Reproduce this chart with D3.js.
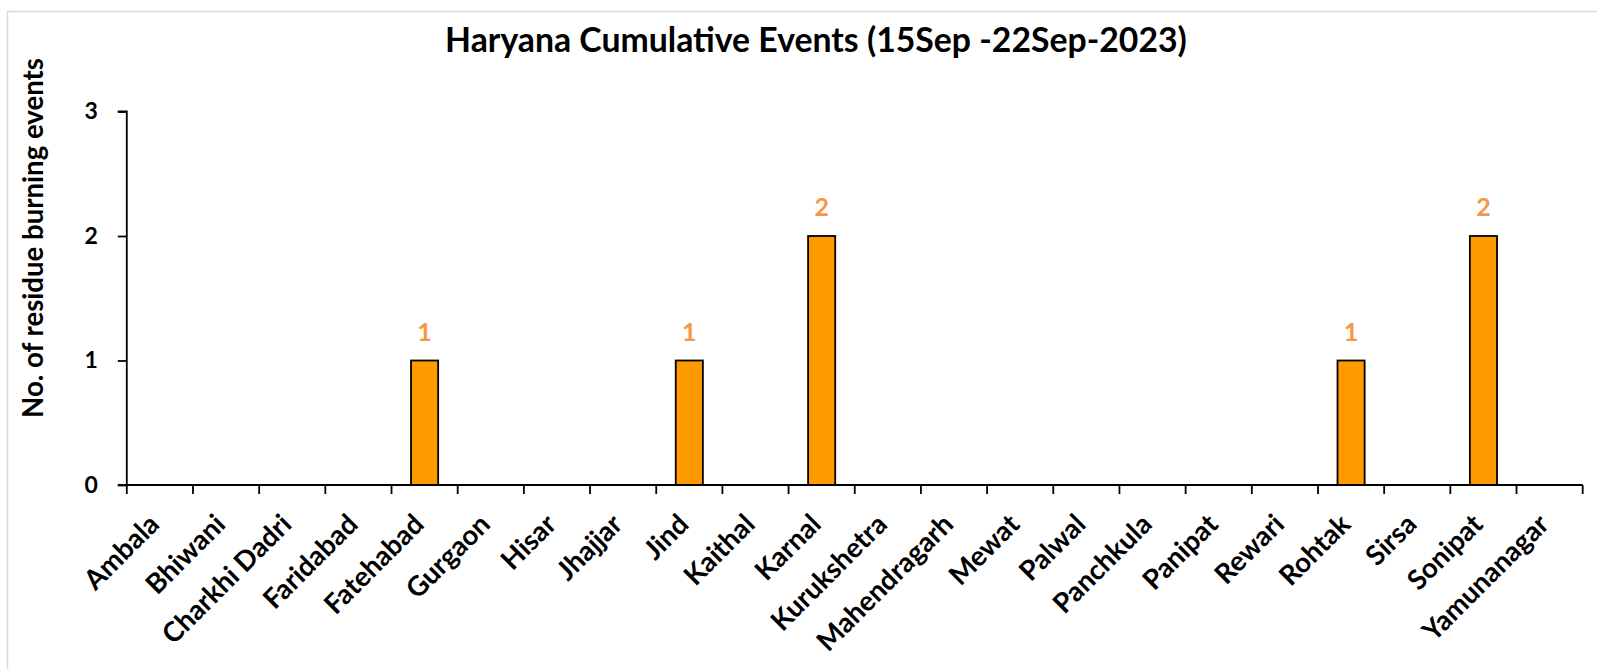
<!DOCTYPE html>
<html>
<head>
<meta charset="utf-8">
<title>Haryana Cumulative Events</title>
<script src="https://d3js.org/d3.v7.min.js"></script>
<style>
    body{
        margin: 0;
        background: #fff;
    }
    text{
        font-family: Lato, "Open Sans", sans-serif;
        font-weight: bold;
    }
</style>
</head>
<body>
<svg id="chart" width="1597" height="669"></svg>
<script>

    // data
    var districts = ["Ambala", "Bhiwani", "Charkhi Dadri", "Faridabad", "Fatehabad", "Gurgaon",
        "Hisar", "Jhajjar", "Jind", "Kaithal", "Karnal", "Kurukshetra", "Mahendragarh", "Mewat",
        "Palwal", "Panchkula", "Panipat", "Rewari", "Rohtak", "Sirsa", "Sonipat", "Yamunanagar"];
    var events = [0, 0, 0, 0, 1, 0, 0, 0, 1, 0, 2, 0, 0, 0, 0, 0, 0, 0, 1, 0, 2, 0];
    var yTicks = [0, 1, 2, 3];
    var titleText = "Haryana Cumulative Events (15Sep -22Sep-2023)";
    var yLabel = "No. of residue burning events";

    var rows = districts.map(function(d, i){ return {name: d, value: events[i]}; });
    var nonZero = rows.filter(function(r){ return r.value > 0; });

    var svg = d3.select("#chart");

    // light frame around the chart area
    svg.append("rect")
        .attr("x", 7.5).attr("y", 11.5)
        .attr("width", 1620).attr("height", 700)
        .attr("fill", "none")
        .attr("stroke", "#d9d9d9")
        .attr("stroke-width", 1.5);

    var plotL = 126.8, plotR = 1582.7, plotT = 111.5, plotB = 485;

    var x = d3.scaleBand()
        .domain(districts)
        .range([plotL, plotR])
        .paddingInner(0.59)
        .paddingOuter(0.295);

    var y = d3.scaleLinear()
        .domain([0, 3])
        .range([plotB, plotT]);

    function fitWidth(sel, target){
        var w = sel.node().getComputedTextLength();
        var fs = parseFloat(sel.style("font-size"));
        sel.style("font-size", (fs * target / w) + "px");
    }

    // title
    var title = svg.append("text")
        .attr("x", 816).attr("y", 52)
        .attr("text-anchor", "middle")
        .style("font-size", "30px")
        .attr("fill", "#000")
        .text(titleText);
    fitWidth(title, 742);

    // y axis title
    var yt = svg.append("text")
        .attr("transform", "translate(43,238) rotate(-90)")
        .attr("text-anchor", "middle")
        .style("font-size", "22px")
        .attr("fill", "#000")
        .text(yLabel);
    fitWidth(yt, 360);

    // bars
    svg.append("g").selectAll("rect")
        .data(nonZero)
        .join("rect")
        .attr("x", function(d){ return x(d.name); })
        .attr("y", function(d){ return y(d.value); })
        .attr("width", x.bandwidth())
        .attr("height", function(d){ return y(0) - y(d.value); })
        .attr("fill", "#ff9900")
        .attr("stroke", "#000")
        .attr("stroke-width", 1.8);

    // value labels
    svg.append("g").selectAll("text")
        .data(nonZero)
        .join("text")
        .attr("x", function(d){ return x(d.name) + x.bandwidth() / 2; })
        .attr("y", function(d){ return y(d.value) - 20; })
        .attr("text-anchor", "middle")
        .style("font-size", "25px")
        .attr("fill", "#f79646")
        .text(function(d){ return d.value; });

    // y axis
    var yAxis = svg.append("g")
        .attr("transform", "translate(" + plotL + ",0)")
        .call(d3.axisLeft(y).tickValues(yTicks).tickFormat(d3.format("d")).tickSize(9).tickPadding(20));
    yAxis.selectAll("path, line").attr("stroke", "#000").attr("stroke-width", 1.8);
    yAxis.select(".domain").attr("d", "M-9," + plotT + "H0V" + plotB);
    yAxis.selectAll("text")
        .style("font-size", "23px")
        .style("font-family", "Lato, sans-serif")
        .style("font-weight", "bold")
        .attr("fill", "#000");

    // x axis line + ticks at category boundaries
    var edges = districts.map(function(d){ return x(d) + x.bandwidth() / 2 - x.step() / 2; });
    edges.push(plotR);
    var xg = svg.append("g");
    xg.append("line")
        .attr("x1", plotL - 9).attr("x2", plotR)
        .attr("y1", plotB).attr("y2", plotB)
        .attr("stroke", "#000").attr("stroke-width", 1.8);
    xg.selectAll("line.tk")
        .data(edges)
        .join("line")
        .attr("class", "tk")
        .attr("x1", function(d){ return d; }).attr("x2", function(d){ return d; })
        .attr("y1", plotB).attr("y2", plotB + 9)
        .attr("stroke", "#000").attr("stroke-width", 1.8);

    // x labels rotated
    xg.selectAll("text")
        .data(districts)
        .join("text")
        .attr("text-anchor", "end")
        .attr("transform", function(d){
            return "translate(" + (x(d) + x.bandwidth() / 2 + 1) + "," + (plotB + 41) + ") rotate(-45)";
        })
        .style("font-size", "27.5px")
        .attr("fill", "#000")
        .text(function(d){ return d; });

</script>
</body>
</html>
